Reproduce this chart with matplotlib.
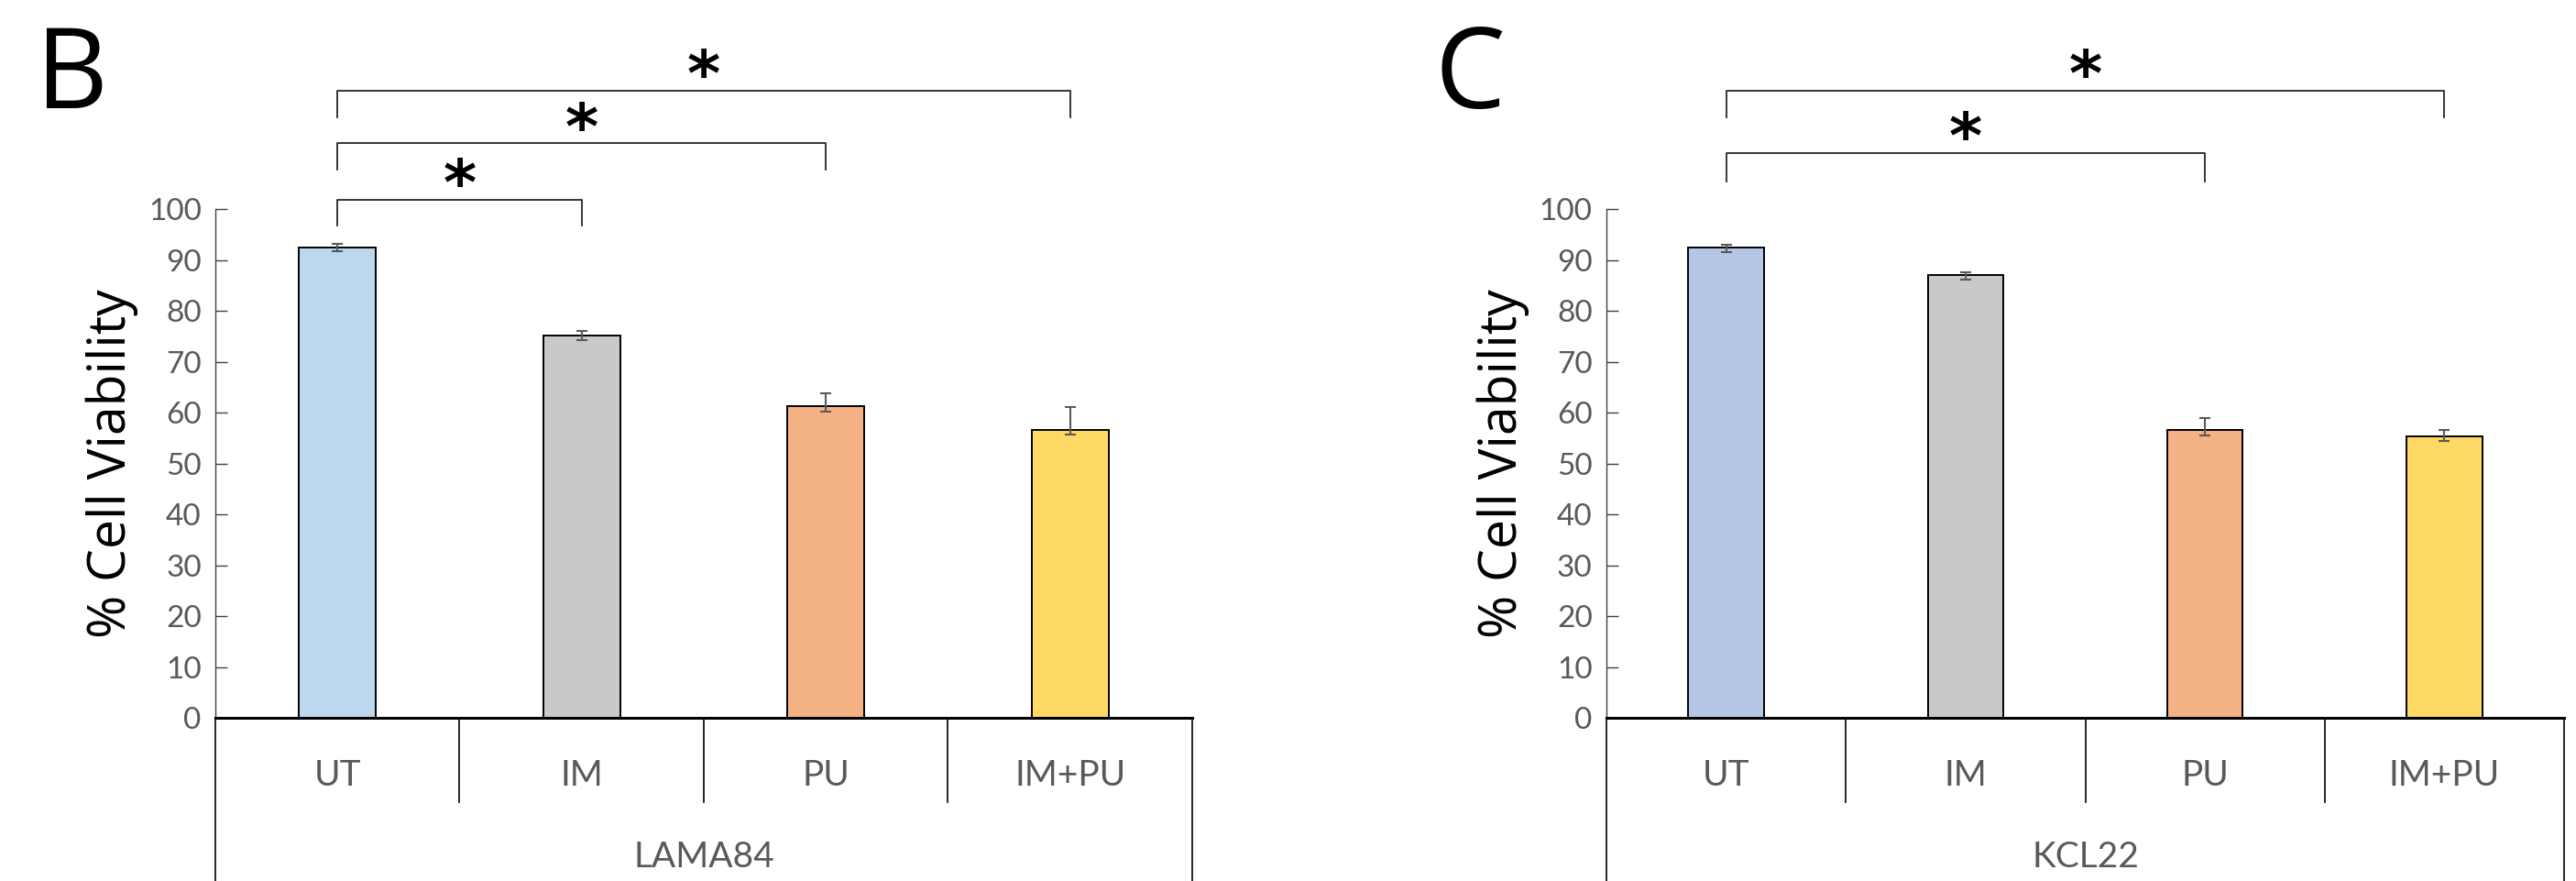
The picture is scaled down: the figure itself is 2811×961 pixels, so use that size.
import matplotlib
matplotlib.use("Agg")
import matplotlib.pyplot as plt

categories = ['UT', 'IM', 'PU', 'IM+PU']

lama_name = 'LAMA84'
lama_values = [92.5, 75.2, 61.2, 56.5]
lama_err_low = [0.8, 0.9, 1.0, 0.8]
lama_err_high = [0.6, 0.9, 2.6, 4.6]

kcl_name = 'KCL22'
kcl_values = [92.4, 87.0, 56.5, 55.4]
kcl_err_low = [0.9, 0.9, 1.0, 1.0]
kcl_err_high = [0.5, 0.5, 2.5, 1.2]

lama_colors = ['#BDD7EE', '#C9C9C9', '#F4B183', '#FFD966']
kcl_colors = ['#B4C7E7', '#C9C9C9', '#F4B183', '#FFD966']

# significance brackets: (from, to, line height, drop height)
lama_sig = [(0, 1, 101.9, 96.8), (0, 2, 112.9, 107.7), (0, 3, 123.2, 118.1)]
kcl_sig = [(0, 2, 111.0, 105.5), (0, 3, 123.2, 118.1)]

TICK_FONT = ['Lato', 'DejaVu Sans']
GRAY = '#595959'

fig = plt.figure(figsize=(28.11, 9.61), dpi=100)


def panel(rect, values, elow, ehigh, colors, group, sig, letter, letter_x):
    ax = fig.add_axes(rect)
    x = list(range(len(categories)))
    ax.bar(x, values, width=0.315, color=colors, edgecolor='black',
           linewidth=1.4, zorder=2)
    ax.errorbar(x, values, yerr=[elow, ehigh], fmt='none', ecolor=GRAY,
                elinewidth=1.5, capsize=4.5, capthick=1.5, zorder=3)
    ax.set_xlim(-0.5, 3.5)
    ax.set_ylim(0, 100)
    ax.set_yticks(range(0, 101, 10))
    ax.tick_params(axis='y', direction='in', length=9, width=1.0,
                   colors='#404040', labelcolor=GRAY, labelsize=24, pad=11)
    for lab in ax.get_yticklabels():
        lab.set_fontfamily(TICK_FONT)
    ax.set_xticks([])
    for s in ['top', 'right']:
        ax.spines[s].set_visible(False)
    ax.spines['left'].set_color('#404040')
    ax.spines['left'].set_linewidth(1.0)
    ax.spines['bottom'].set_color('black')
    ax.spines['bottom'].set_linewidth(2.2)
    ax.set_ylabel('% Cell Viability', fontsize=41, family=['Open Sans', 'DejaVu Sans'],
                  labelpad=8)
    # category box
    bottom_y = -35
    for b in [-0.5, 0.5, 1.5, 2.5, 3.5]:
        y1 = bottom_y if b in (-0.5, 3.5) else -16.5
        ax.plot([b, b], [0, y1], color='black', lw=1.2, clip_on=False)
    for i, c in enumerate(categories):
        ax.text(i, -11.3, c, ha='center', va='center', fontsize=28,
                color=GRAY, family=TICK_FONT)
    ax.text(1.5, -27.4, group, ha='center', va='center', fontsize=28,
            color=GRAY, family=TICK_FONT)
    # significance
    for a, b, yl, yd in sig:
        ax.plot([a, a, b, b], [yd, yl, yl, yd], color='#262626', lw=1.3,
                clip_on=False)
        ax.text((a + b) / 2, yl + 2.6, '*', ha='center', va='center',
                fontsize=50, fontweight='bold', clip_on=False,
                family=['DejaVu Sans'])
    fig.text(letter_x, 0.975, letter, fontsize=88, ha='left', va='top',
             family=['Open Sans', 'DejaVu Sans'])
    return ax


panel([0.0836, 0.1852, 0.3792, 0.5775], lama_values, lama_err_low,
      lama_err_high, lama_colors, lama_name, lama_sig, 'B', 0.014)
panel([0.6236, 0.1852, 0.3718, 0.5775], kcl_values, kcl_err_low,
      kcl_err_high, kcl_colors, kcl_name, kcl_sig, 'C', 0.557)

fig.savefig('out.png', dpi=100)
